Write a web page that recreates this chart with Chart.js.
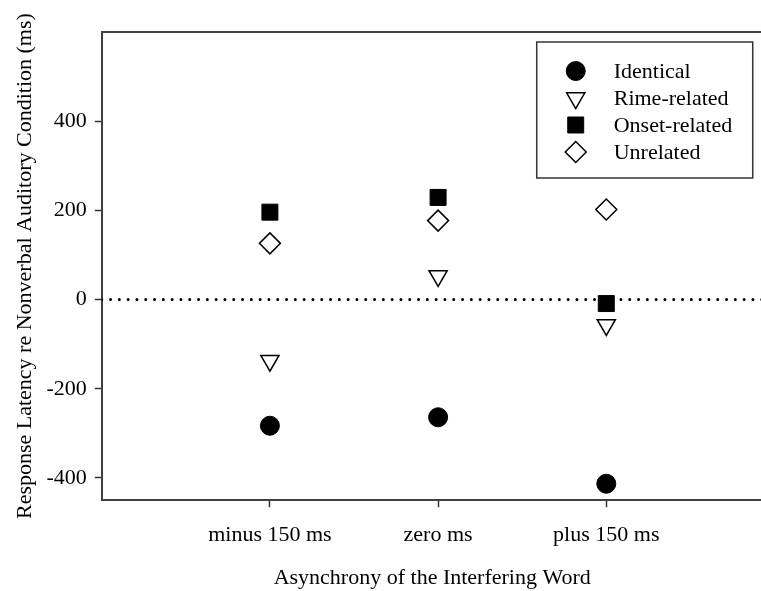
<!DOCTYPE html>
<html>
<head>
<meta charset="utf-8">
<script src="https://cdn.jsdelivr.net/npm/chart.js@4/dist/chart.umd.min.js"></script>
<style>
  html, body { margin: 0; padding: 0; background: #fff; overflow: hidden; }
  #wrap { width: 775px; height: 591px; position: relative; }
</style>
</head>
<body>
<div id="wrap"><canvas id="latencyChart"></canvas></div>
<script>
// categories on the x axis (placed at 1, 2, 3)
const asynchrony = ["minus 150 ms", "zero ms", "plus 150 ms"];

// response latency re nonverbal auditory condition (ms)
const identical = [-283, -264, -413];
const rimeRelated = [-137, 53, -57];
const onsetRelated = [196, 229, -9];
const unrelated = [126, 177, 202];

const yTicks = [-400, -200, 0, 200, 400];
const zeroLine = 0;

const serif = "'Liberation Serif', 'Times New Roman', serif";

function toPoints(values) {
    return values.map(function(v, i) { return { x: i + 1, y: v }; });
}

// boxed legend inside the plot, upper right
const boxLegend = {
    id: 'boxLegend',
    afterDatasetsDraw(chart) {
        const ctx = chart.ctx;
        const area = chart.chartArea;
        const left = area.left + 435, top = area.top + 10;
        const w = 216, h = 136;
        ctx.save();
        ctx.strokeStyle = '#333';
        ctx.lineWidth = 1.5;
        ctx.strokeRect(left, top, w, h);
        let row = 0;
        chart.data.datasets.forEach(function(ds) {
            if (ds.hideInLegend) return;
            const y = top + 29 + row * 27;
            ctx.fillStyle = ds.backgroundColor;
            ctx.strokeStyle = ds.borderColor;
            ctx.lineWidth = ds.borderWidth;
            Chart.helpers.drawPoint(ctx, {
                pointStyle: ds.pointStyle,
                radius: ds.pointRadius,
                rotation: ds.rotation || 0,
                borderWidth: ds.borderWidth
            }, left + 39, y);
            ctx.fillStyle = '#000';
            ctx.font = "22px " + serif;
            ctx.textBaseline = 'middle';
            ctx.textAlign = 'left';
            ctx.fillText(ds.label, left + 77, y + 1);
            row++;
        });
        ctx.restore();
    }
};

// top frame line
const topFrame = {
    id: 'topFrame',
    afterDraw(chart) {
        const ctx = chart.ctx;
        const a = chart.chartArea;
        ctx.save();
        ctx.strokeStyle = '#404040';
        ctx.lineWidth = 2;
        ctx.beginPath();
        ctx.moveTo(a.left, a.top);
        ctx.lineTo(a.right, a.top);
        ctx.stroke();
        ctx.restore();
    }
};

const xMin = 0, xMax = 3.93;

new Chart(document.getElementById('latencyChart').getContext('2d'), {
    type: 'scatter',
    data: {
        datasets: [
            {
                label: "Identical",
                data: toPoints(identical),
                pointStyle: 'circle',
                pointRadius: 9.5,
                backgroundColor: '#000',
                borderColor: '#000',
                borderWidth: 1,
                order: 1
            },
            {
                label: "Rime-related",
                data: toPoints(rimeRelated),
                pointStyle: 'triangle',
                rotation: 180,
                pointRadius: 10.5,
                backgroundColor: '#fff',
                borderColor: '#000',
                borderWidth: 1.5,
                order: 1
            },
            {
                label: "Onset-related",
                data: toPoints(onsetRelated),
                pointStyle: 'rect',
                pointRadius: 11.3,
                backgroundColor: '#000',
                borderColor: '#000',
                borderWidth: 1,
                order: 1
            },
            {
                label: "Unrelated",
                data: toPoints(unrelated),
                pointStyle: 'rectRot',
                pointRadius: 10.5,
                backgroundColor: '#fff',
                borderColor: '#000',
                borderWidth: 1.5,
                order: 1
            },
            {
                type: 'line',
                label: "zero",
                hideInLegend: true,
                data: [{ x: xMin, y: zeroLine }, { x: xMax, y: zeroLine }],
                borderColor: '#000',
                borderWidth: 3,
                borderDash: [0, 8.8],
                borderCapStyle: 'round',
                pointRadius: 0,
                order: 10
            }
        ]
    },
    options: {
        responsive: true,
        maintainAspectRatio: false,
        animation: false,
        layout: { padding: { left: 8, top: 32, right: 0, bottom: 0 } },
        plugins: {
            legend: { display: false },
            tooltip: { enabled: false }
        },
        scales: {
            x: {
                type: 'linear',
                min: xMin,
                max: xMax,
                afterBuildTicks: function(axis) {
                    axis.ticks = asynchrony.map(function(c, i) { return { value: i + 1 }; });
                },
                ticks: {
                    autoSkip: false,
                    maxRotation: 0,
                    padding: 15,
                    color: '#000',
                    font: { family: serif, size: 22 },
                    callback: function(v) { return asynchrony[v - 1]; }
                },
                grid: {
                    drawOnChartArea: false,
                    drawTicks: true,
                    tickLength: 7,
                    tickColor: '#333',
                    tickWidth: 1.5
                },
                border: { display: true, color: '#404040', width: 2 },
                title: {
                    display: true,
                    text: "Asynchrony of the Interfering Word",
                    color: '#000',
                    font: { family: serif, size: 22 },
                    padding: { top: 1, bottom: 0 }
                }
            },
            y: {
                min: -450,
                max: 600,
                afterBuildTicks: function(axis) {
                    axis.ticks = yTicks.map(function(v) { return { value: v }; });
                },
                ticks: {
                    padding: 8,
                    color: '#000',
                    font: { family: serif, size: 22 }
                },
                grid: {
                    drawOnChartArea: false,
                    drawTicks: true,
                    tickLength: 7,
                    tickColor: '#333',
                    tickWidth: 1.5
                },
                border: { display: true, color: '#404040', width: 2 },
                title: {
                    display: true,
                    text: "Response Latency re Nonverbal Auditory Condition (ms)",
                    color: '#000',
                    font: { family: serif, size: 22 },
                    padding: { top: 4, bottom: 0 }
                }
            }
        }
    },
    plugins: [boxLegend, topFrame]
});
</script>
</body>
</html>
